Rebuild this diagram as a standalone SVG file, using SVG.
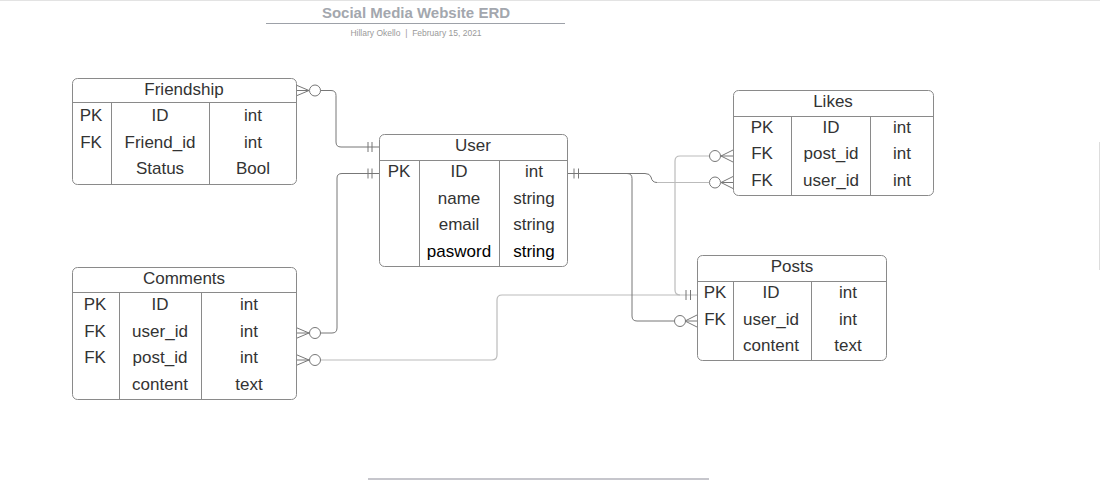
<svg xmlns="http://www.w3.org/2000/svg" width="1100" height="480" viewBox="0 0 1100 480">
<style>
text{font-family:"Liberation Sans",Arial,sans-serif;font-size:17px;fill:#333;text-anchor:middle}
.box{fill:#fff;stroke:#8a8a8a;stroke-width:1}
.div{stroke:#8a8a8a;stroke-width:1;fill:none}
.c{fill:none;stroke:#777;stroke-width:1}
.cl{fill:none;stroke:#bbb;stroke-width:1.2}
.o{fill:#fff;stroke:#777;stroke-width:1}
.t{font-size:15px;font-weight:bold;fill:#a3a7ae}
.s{font-size:8.5px;fill:#9a9a9a}
.k{fill:#000}
</style>
<rect width="1100" height="480" fill="#fff"/>
<line x1="0" y1="0.5" x2="1100" y2="0.5" stroke="#e3e3e3"/>
<line x1="1099.5" y1="142" x2="1099.5" y2="270" stroke="#ddd"/>
<g id="title">
<text class="t" x="416" y="18">Social Media Website ERD</text>
<line x1="266" y1="23.5" x2="565" y2="23.5" stroke="#9da1a8"/>
<text class="s" x="416" y="36">Hillary Okello&#160;&#160;|&#160;&#160;February 15, 2021</text>
</g>
<line x1="368" y1="479" x2="709" y2="479" stroke="#c6c6cc" stroke-width="2"/>

<g id="connectors">
<path class="c" d="M320,90.5 H331 Q336,90.5 336,95.5 V142 Q336,147 341,147 H379"/>
<path class="c" d="M296,85 L309,90.5 L296,96 M296,90.5 H309 M368,142 V152 M372,142 V152"/>
<circle class="o" cx="315" cy="90.5" r="5.5"/>
<path class="c" d="M320,333 H332 Q337,333 337,328 V178 Q337,173.5 342,173.5 H379"/>
<path class="c" d="M296,327.5 L309,333 L296,338.5 M296,333 H309 M368,168.5 V178.5 M372,168.5 V178.5"/>
<circle class="o" cx="315" cy="333" r="5.5"/>
<path class="cl" d="M320,360 H492 Q497,360 497,355 V300 Q497,295 502,295 H697"/>
<path class="c" d="M296,354.5 L309,360 L296,365.5 M296,360 H309"/>
<circle class="o" cx="315" cy="360" r="5.5"/>
<path class="c" d="M686,290 V300 M690.5,290 V300"/>
<path class="c" d="M567,173.5 H645 Q650,173.5 651,177 Q652,182.5 657,182.5"/>
<path class="cl" d="M657,182.5 H709"/>
<path class="c" d="M574,168.5 V178.5 M578.5,168.5 V178.5"/>
<path class="c" d="M733,176.5 L721,182.5 L733,188.5 M721,182.5 H733"/>
<circle class="o" cx="715" cy="182.5" r="5.5"/>
<path class="c" d="M627,173.5 Q632,173.5 632,178.5 V316 Q632,321 637,321 H674"/>
<path class="c" d="M697,315 L685,321 L697,327 M685,321 H697"/>
<circle class="o" cx="680" cy="321" r="5.5"/>
<path class="cl" d="M709,156 H680 Q675,156 675,161 V290 Q675,295 680,295"/>
<path class="c" d="M733,150 L721,156 L733,162 M721,156 H733"/>
<circle class="o" cx="715" cy="156" r="5.5"/>
</g>

<g id="friendship">
<rect class="box" x="72.5" y="78.5" width="224" height="106" rx="5"/>
<path class="div" d="M72.5,102.5 H296.5 M111.5,102.5 V184.5 M209.5,102.5 V184.5"/>
<text x="184" y="95">Friendship</text>
<text x="91" y="121">PK</text><text x="160" y="121">ID</text><text x="253" y="121">int</text>
<text x="91" y="148">FK</text><text x="160" y="148">Friend_id</text><text x="253" y="148">int</text>
<text x="160" y="174">Status</text><text x="253" y="174">Bool</text>
</g>

<g id="user">
<rect class="box" x="379.5" y="134.5" width="188" height="132" rx="5"/>
<path class="div" d="M379.5,160.5 H567.5 M419.5,160.5 V266.5 M499.5,160.5 V266.5"/>
<text x="473" y="151">User</text>
<text x="399" y="177">PK</text><text x="459" y="177">ID</text><text x="534" y="177">int</text>
<text x="459" y="204">name</text><text x="534" y="204">string</text>
<text x="459" y="230">email</text><text x="534" y="230">string</text>
<text class="k" x="459" y="257">pasword</text><text class="k" x="534" y="257">string</text>
</g>

<g id="likes">
<rect class="box" x="733.5" y="90.5" width="200" height="105" rx="5"/>
<path class="div" d="M733.5,116.5 H933.5 M791.5,116.5 V195.5 M870.5,116.5 V195.5"/>
<text x="833" y="107">Likes</text>
<text x="762" y="133">PK</text><text x="831" y="133">ID</text><text x="902" y="133">int</text>
<text x="762" y="159">FK</text><text x="831" y="159">post_id</text><text x="902" y="159">int</text>
<text x="762" y="186">FK</text><text x="831" y="186">user_id</text><text x="902" y="186">int</text>
</g>

<g id="posts">
<rect class="box" x="697.5" y="255.5" width="189" height="105" rx="5"/>
<path class="div" d="M697.5,281.5 H886.5 M733.5,281.5 V360.5 M811.5,281.5 V360.5"/>
<text x="792" y="272">Posts</text>
<text x="715" y="298">PK</text><text x="771" y="298">ID</text><text x="848" y="298">int</text>
<text x="715" y="325">FK</text><text x="771" y="325">user_id</text><text x="848" y="325">int</text>
<text x="771" y="351">content</text><text x="848" y="351">text</text>
</g>

<g id="comments">
<rect class="box" x="72.5" y="267.5" width="224" height="132" rx="5"/>
<path class="div" d="M72.5,292.5 H296.5 M119.5,292.5 V399.5 M201.5,292.5 V399.5"/>
<text x="184" y="284">Comments</text>
<text x="95" y="310">PK</text><text x="160" y="310">ID</text><text x="249" y="310">int</text>
<text x="95" y="337">FK</text><text x="160" y="337">user_id</text><text x="249" y="337">int</text>
<text x="95" y="363">FK</text><text x="160" y="363">post_id</text><text x="249" y="363">int</text>
<text x="160" y="390">content</text><text x="249" y="390">text</text>
</g>
</svg>
